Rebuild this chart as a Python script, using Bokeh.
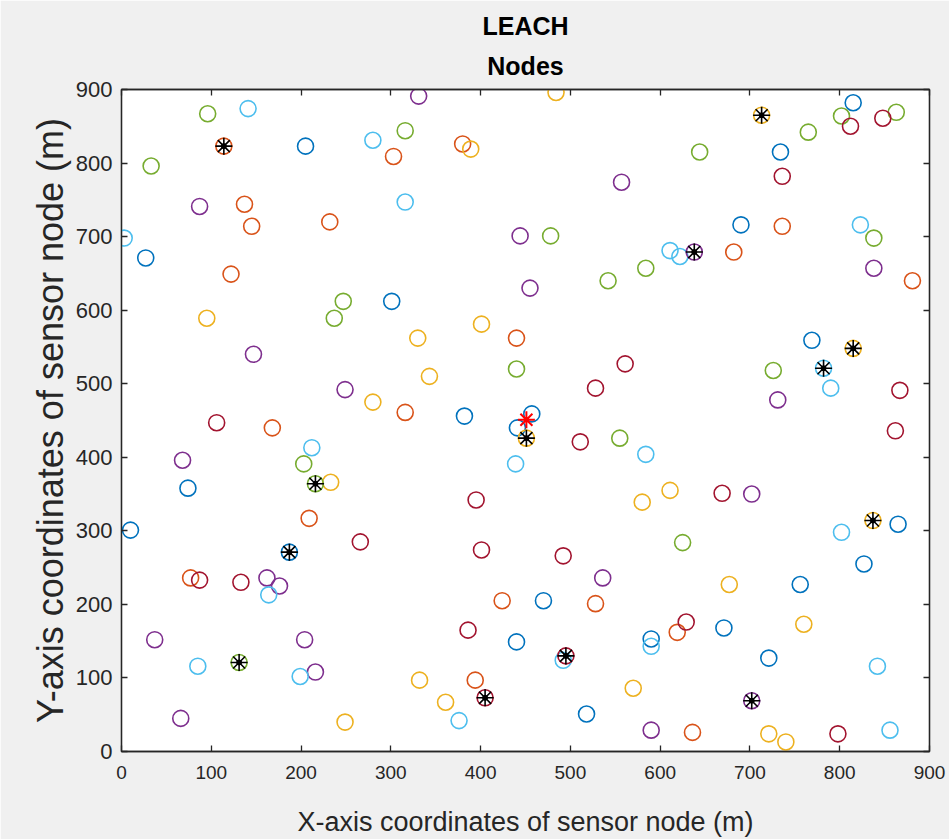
from bokeh.plotting import figure
from bokeh.models import LinearAxis, Title, Range1d, FixedTicker
from bokeh.embed import file_html
from bokeh.resources import INLINE

# Normal sensor nodes, grouped by plotting colour (x, y in metres)
blue_x = [205, 301, 27, 815, 734, 690, 769, 382, 457, 441, 74, 10, 865, 470, 440, 590, 827, 756, 671, 721, 518]
blue_y = [823, 612, 671, 882, 815, 716, 559, 456, 459, 440, 358, 301, 309, 205, 149, 153, 255, 227, 168, 127, 51]

orange_x = [303, 380, 137, 145, 232, 122, 736, 682, 881, 440, 316, 168, 209, 77, 424, 528, 619, 394, 636]
orange_y = [809, 826, 744, 714, 720, 649, 714, 679, 640, 562, 461, 440, 317, 236, 205, 201, 162, 97, 26]

yellow_x = [484, 389, 95, 401, 330, 343, 280, 233, 611, 580, 677, 760, 332, 361, 570, 249, 721, 740]
yellow_y = [896, 819, 589, 581, 562, 510, 475, 366, 355, 339, 227, 173, 97, 67, 86, 40, 24, 13]

purple_x = [331, 557, 87, 444, 455, 838, 147, 249, 731, 68, 702, 536, 162, 176, 37, 204, 216, 66, 590]
purple_y = [891, 774, 741, 701, 630, 657, 540, 492, 478, 396, 350, 236, 236, 225, 152, 152, 108, 45, 29]

green_x = [96, 316, 33, 802, 863, 765, 644, 478, 838, 584, 542, 247, 237, 440, 726, 203, 555, 625]
green_y = [867, 844, 796, 864, 869, 842, 815, 701, 698, 657, 640, 612, 589, 520, 518, 391, 426, 284]

lightblue_x = [141, 280, 316, 3, 823, 611, 622, 790, 212, 584, 439, 802, 164, 590, 492, 85, 199, 842, 376, 856]
lightblue_y = [874, 831, 747, 698, 716, 681, 673, 494, 413, 404, 391, 298, 213, 143, 124, 116, 102, 116, 42, 29]

darkred_x = [812, 848, 736, 561, 528, 867, 862, 106, 511, 669, 395, 266, 87, 133, 401, 492, 386, 629, 798]
darkred_y = [850, 861, 782, 527, 494, 491, 436, 447, 421, 351, 342, 285, 233, 230, 274, 266, 165, 176, 24]

# Cluster heads and the colour of the node circle beneath each one
ch_x = [114, 713, 638, 216, 451, 815, 782, 837, 187, 131, 495, 405, 702]
ch_y = [823, 865, 679, 364, 426, 548, 521, 314, 271, 121, 130, 73, 69]
ch_group = ["orange", "yellow", "purple", "green", "yellow", "yellow", "lightblue",
            "yellow", "blue", "green", "darkred", "darkred", "purple"]

# Base station / sink
sink_x = [451]
sink_y = [451]

ticks = [0, 100, 200, 300, 400, 500, 600, 700, 800, 900]

palette = {
    "blue": "#0072BD",
    "orange": "#D95319",
    "yellow": "#EDB120",
    "purple": "#7E2F8E",
    "green": "#77AC30",
    "lightblue": "#4DBEEE",
    "darkred": "#A2142F",
}

FONT = "Liberation Sans"
AXIS_COLOR = "#262626"

p = figure(width=949, height=839, frame_width=808, frame_height=662,
           x_range=Range1d(0, 900), y_range=Range1d(0, 900),
           output_backend="svg", toolbar_location=None,
           min_border_left=121, min_border_right=20,
           min_border_top=89, min_border_bottom=88,
           x_axis_label="X-axis coordinates of sensor node (m)",
           y_axis_label="Y-axis coordinates of sensor node (m)")

p.background_fill_color = "white"
p.border_fill_color = "#f0f0f0"
p.outline_line_color = AXIS_COLOR
p.outline_line_width = 1.3
p.xgrid.visible = False
p.ygrid.visible = False

for ax in (p.xaxis[0], p.yaxis[0]):
    ax.ticker = FixedTicker(ticks=ticks)
    ax.axis_line_color = AXIS_COLOR
    ax.axis_line_width = 1.3
    ax.major_tick_line_color = AXIS_COLOR
    ax.major_tick_line_width = 1.3
    ax.major_tick_in = 6
    ax.major_tick_out = 0
    ax.minor_tick_line_color = None
    ax.major_label_text_font = FONT
    ax.major_label_text_color = AXIS_COLOR
    ax.axis_label_text_font = FONT
    ax.axis_label_text_font_style = "normal"
    ax.axis_label_text_color = AXIS_COLOR

p.xaxis.major_label_text_font_size = "19px"
p.yaxis.major_label_text_font_size = "22px"
p.xaxis.major_label_standoff = 14
p.yaxis.major_label_standoff = 9
p.xaxis.axis_label_text_font_size = "27px"
p.yaxis.axis_label_text_font_size = "36px"
p.xaxis.axis_label_standoff = 25
p.yaxis.axis_label_standoff = 2

# Box ticks on the top and right edges, without labels
for side in ("above", "right"):
    ax = LinearAxis(ticker=FixedTicker(ticks=ticks),
                    major_label_overrides={t: "" for t in ticks})
    ax.axis_line_color = AXIS_COLOR
    ax.axis_line_width = 1.3
    ax.major_tick_line_color = AXIS_COLOR
    ax.major_tick_line_width = 1.3
    ax.major_tick_in = 6
    ax.major_tick_out = 0
    ax.minor_tick_line_color = None
    ax.major_label_standoff = 0
    p.add_layout(ax, side)

p.add_layout(Title(text="Nodes", align="center", text_font=FONT, text_font_size="25px",
                   text_font_style="bold", text_color="black", standoff=19), "above")
p.add_layout(Title(text="LEACH", align="center", text_font=FONT, text_font_size="25px",
                   text_font_style="bold", text_color="black", standoff=1), "above")

groups = {
    "blue": (blue_x, blue_y),
    "orange": (orange_x, orange_y),
    "yellow": (yellow_x, yellow_y),
    "purple": (purple_x, purple_y),
    "green": (green_x, green_y),
    "lightblue": (lightblue_x, lightblue_y),
    "darkred": (darkred_x, darkred_y),
}

for name, (xs, ys) in groups.items():
    p.scatter(xs, ys, marker="circle", size=16, fill_color=None,
              line_color=palette[name], line_width=1.6)

# Cluster heads: node circle with a black asterisk on top
p.scatter(ch_x, ch_y, marker="circle", size=16, fill_color=None,
          line_color=[palette[g] for g in ch_group], line_width=1.6)
p.scatter(ch_x, ch_y, marker="asterisk", size=17, line_color="black", line_width=1.6)
p.scatter(ch_x, ch_y, marker="circle", size=5, fill_color="black", line_color="black")

# Sink
p.scatter(sink_x, sink_y, marker="asterisk", size=17, line_color="red", line_width=2)

open("out.html", "w").write(file_html(p, INLINE))
